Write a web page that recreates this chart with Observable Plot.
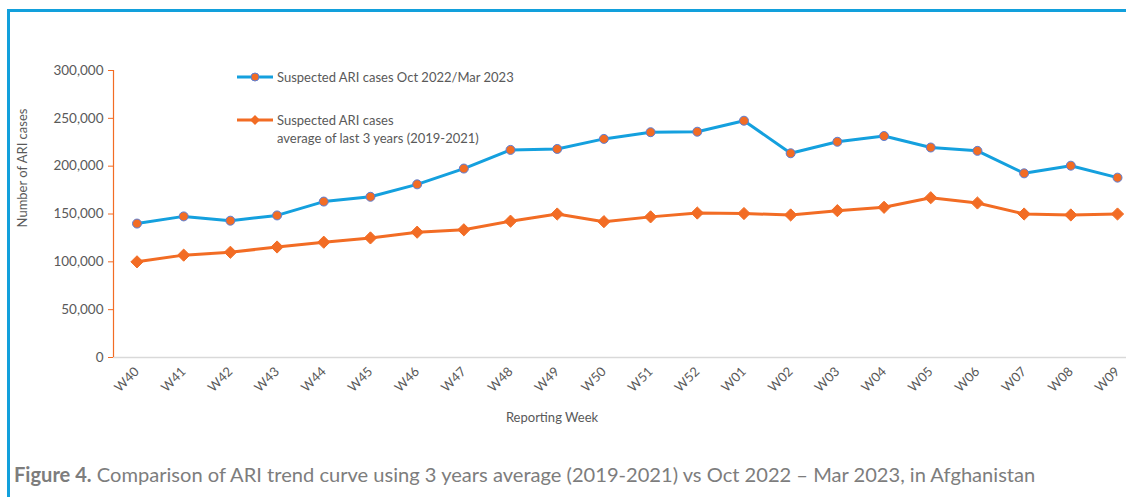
<!DOCTYPE html>
<html>
<head>
<meta charset="utf-8">
<script src="https://cdn.jsdelivr.net/npm/d3@7"></script>
<script src="https://cdn.jsdelivr.net/npm/@observablehq/plot@0.6"></script>
<style>
  html, body { margin: 0; padding: 0; background: #fff; }
  #wrap { position: relative; width: 1126px; height: 497px; overflow: hidden; font-family: Lato, "Open Sans", sans-serif; }
  #borderTop { position: absolute; left: 7px; top: 9px; width: 1119px; height: 3px; background: #12a0dc; }
  #borderLeft { position: absolute; left: 7px; top: 9px; width: 3px; height: 488px; background: #12a0dc; }
  #chart { position: absolute; left: 0; top: 0; }
  .lg { position: absolute; font-size: 13px; color: #595959; line-height: 18px; }
  #ytitle { position: absolute; left: 22px; top: 168px; transform: translate(-50%, -50%) rotate(-90deg); font-size: 13px; color: #595959; white-space: nowrap; }
  #xtitle { position: absolute; left: 552px; top: 417px; transform: translate(-50%, -50%); font-size: 13px; color: #595959; white-space: nowrap; }
  #caption { position: absolute; left: 14px; top: 462px; font-size: 20.1px; color: #7d7d7d; white-space: nowrap; }
  #caption b { font-weight: 700; }
</style>
</head>
<body>
<div id="wrap">
  <div id="borderTop"></div>
  <div id="borderLeft"></div>
  <div id="chart"></div>
  <div id="ytitle">Number of ARI cases</div>
  <div id="xtitle">Reporting Week</div>
  <div id="caption"><b>Figure 4.</b> Comparison of ARI trend curve using 3 years average (2019-2021) vs Oct 2022 – Mar 2023, in Afghanistan</div>
</div>
<script>
const weeks = ["W40","W41","W42","W43","W44","W45","W46","W47","W48","W49","W50","W51","W52","W01","W02","W03","W04","W05","W06","W07","W08","W09"];
const current = [140000,147500,143000,148500,163000,168000,181000,197500,217000,218000,228500,235500,236000,247500,213500,225500,231500,219500,216000,192500,200500,188000];
const average = [100000,107000,110000,115500,120500,125000,131000,133500,142500,150000,142000,147000,151000,150500,149000,153500,157000,167000,161500,150000,149000,150000];
const yTicks = [0,50000,100000,150000,200000,250000,300000];
const seriesNames = ["Suspected ARI cases Oct 2022/Mar 2023", "Suspected ARI cases\naverage of last 3 years (2019-2021)"];

const BLUE = "#14a0de";
const ORANGE = "#f26c24";
const MARK_STROKE = "#5b7fd6";
const TXT = "#595959";

const curData = weeks.map((w, i) => ({week: w, value: current[i]}));
const avgData = weeks.map((w, i) => ({week: w, value: average[i]}));

const chart = Plot.plot({
  width: 1126,
  height: 440,
  marginLeft: 113,
  marginRight: 0,
  marginTop: 70,
  marginBottom: 83,
  style: {fontFamily: "Lato, 'Open Sans', sans-serif", fontSize: "12px", color: TXT, background: "transparent"},
  x: {type: "point", domain: weeks, range: [136.5, 1117], padding: 0, round: false},
  y: {domain: [0, 300000]},
  marks: [
    Plot.ruleY([0], {stroke: "#d9d9d9", strokeWidth: 1.5}),
    Plot.axisY(yTicks, {tickFormat: d3.format(","), tickSize: 5, tickPadding: 5, stroke: ORANGE, fill: TXT, fontSize: 13.5, label: null}),
    Plot.axisX({tickSize: 0, tickRotate: -45, tickPadding: 12, fill: TXT, fontSize: 13, label: null}),
    Plot.line(avgData, {x: "week", y: "value", stroke: ORANGE, strokeWidth: 3}),
    Plot.dot(avgData, {x: "week", y: "value", symbol: "diamond2", r: 5.5, fill: ORANGE, stroke: ORANGE, strokeWidth: 1}),
    Plot.line(curData, {x: "week", y: "value", stroke: BLUE, strokeWidth: 3}),
    Plot.dot(curData, {x: "week", y: "value", symbol: "circle", r: 4.5, fill: ORANGE, stroke: MARK_STROKE, strokeWidth: 1})
  ]
});
document.getElementById("chart").appendChild(chart);

// y axis line (orange), drawn from the y scale
const ys = chart.scale("y");
const svg = d3.select(chart);
svg.append("line")
  .attr("x1", 113.5).attr("x2", 113.5)
  .attr("y1", ys.apply(0)).attr("y2", ys.apply(300000))
  .attr("stroke", ORANGE).attr("stroke-width", 1.2);

// legend
const wrap = document.getElementById("wrap");
function legendItem(top, color, symbol, lines) {
  const s = d3.create("svg").attr("width", 40).attr("height", 12)
    .style("position", "absolute").style("left", "235px").style("top", (top - 6) + "px");
  s.append("line").attr("x1", 2).attr("x2", 38).attr("y1", 6).attr("y2", 6).attr("stroke", color).attr("stroke-width", 3);
  if (symbol === "circle") {
    s.append("circle").attr("cx", 20).attr("cy", 6).attr("r", 4).attr("fill", ORANGE).attr("stroke", MARK_STROKE);
  } else {
    s.append("path").attr("d", "M20,1L25,6L20,11L15,6Z").attr("fill", ORANGE);
  }
  wrap.appendChild(s.node());
  const d = document.createElement("div");
  d.className = "lg";
  d.style.left = "277px";
  d.style.top = (top - 9) + "px";
  d.innerHTML = lines.split("\n").join("<br>");
  wrap.appendChild(d);
}
legendItem(77, BLUE, "circle", seriesNames[0]);
legendItem(120, ORANGE, "diamond", seriesNames[1]);
</script>
</body>
</html>
